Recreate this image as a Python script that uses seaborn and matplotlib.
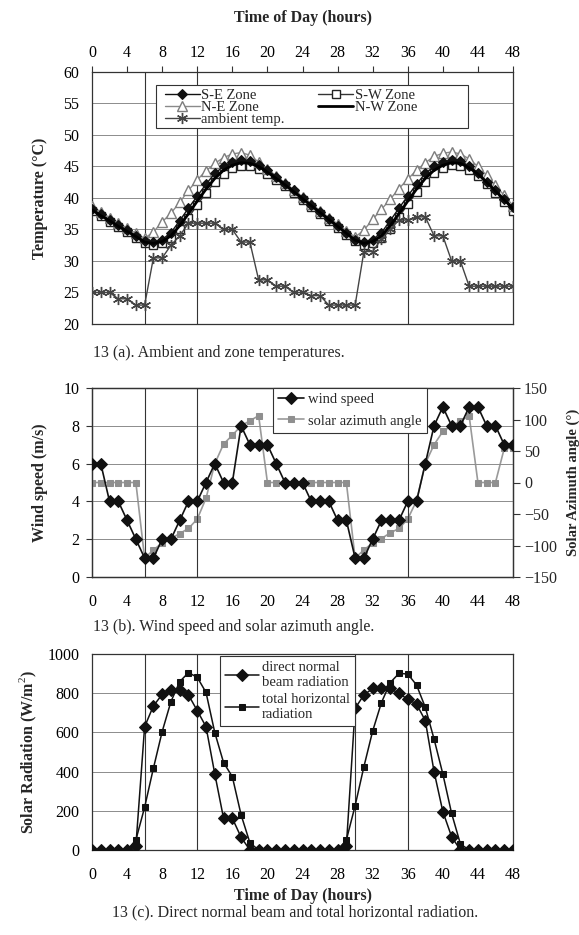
import matplotlib
matplotlib.use("Agg")
import matplotlib.pyplot as plt
from matplotlib.patches import Rectangle
import seaborn as sns

hours = list(range(49))

se_zone = [38.2, 37.4, 36.5, 35.7, 34.9, 34.0, 33.1,
           33.0, 33.4, 34.5, 36.4, 38.4, 40.3,
           42.2, 43.9, 45.0, 45.7, 46.0, 45.9,
           45.3, 44.4, 43.4, 42.3, 41.2, 40.0,
           38.9, 37.8, 36.7, 35.6, 34.5, 33.4,
           33.0, 33.4, 34.5, 36.4, 38.4, 40.3,
           42.2, 43.9, 45.0, 45.7, 46.0, 45.8,
           45.1, 44.0, 42.6, 41.2, 39.8, 38.5]
sw_zone = [37.9, 37.1, 36.2, 35.4, 34.6, 33.7, 32.9,
           32.6, 32.8, 33.6, 35.0, 36.9, 38.9,
           40.8, 42.5, 43.8, 44.7, 45.1, 45.1,
           44.6, 43.8, 42.9, 41.9, 40.8, 39.7,
           38.6, 37.5, 36.4, 35.3, 34.2, 33.1,
           32.6, 32.8, 33.7, 35.1, 37.0, 39.0,
           40.9, 42.6, 43.9, 44.8, 45.2, 45.1,
           44.5, 43.5, 42.2, 40.8, 39.4, 38.0]
ne_zone = [38.7, 37.8, 36.9, 36.1, 35.2, 34.4, 33.6,
           34.6, 36.2, 37.6, 39.3, 41.2, 42.9,
           44.3, 45.5, 46.4, 47.0, 47.2, 46.8,
           45.7, 44.6, 43.5, 42.4, 41.3, 40.2,
           39.1, 38.0, 36.9, 35.9, 34.8, 33.8,
           34.9, 36.6, 38.2, 39.8, 41.5, 43.0,
           44.4, 45.6, 46.6, 47.1, 47.3, 47.0,
           46.2, 45.0, 43.6, 42.0, 40.4, 38.8]
nw_zone = [38.1, 37.2, 36.4, 35.5, 34.7, 33.9, 33.0,
           32.8, 33.1, 34.0, 35.6, 37.5, 39.5,
           41.4, 43.1, 44.4, 45.2, 45.6, 45.5,
           45.0, 44.1, 43.1, 42.1, 41.0, 39.9,
           38.8, 37.7, 36.6, 35.5, 34.4, 33.3,
           32.8, 33.1, 34.0, 35.6, 37.5, 39.5,
           41.4, 43.1, 44.4, 45.2, 45.6, 45.5,
           44.8, 43.8, 42.5, 41.1, 39.7, 38.3]
ambient_temp = [25, 25, 25, 24, 24, 23, 23,
                30.5, 30.5, 32.5, 34, 36, 36,
                36, 36, 35, 35, 33, 33,
                27, 27, 26, 26, 25, 25,
                24.5, 24.5, 23, 23, 23, 23,
                31.5, 31.5, 33.5, 35, 36.5, 36.5,
                37, 37, 34, 34, 30, 30,
                26, 26, 26, 26, 26, 26]

wind_speed = [6, 6, 4, 4, 3, 2, 1,
              1, 2, 2, 3, 4, 4,
              5, 6, 5, 5, 8, 7,
              7, 7, 6, 5, 5, 5,
              4, 4, 4, 3, 3, 1,
              1, 2, 3, 3, 3, 4,
              4, 6, 8, 9, 8, 8,
              9, 9, 8, 8, 7, 7]
solar_azimuth = [0, 0, 0, 0, 0, 0,
                 -120, -107, -96, -89, -81, -73, -58,
                 -25, 30, 61, 75, 90, 98, 106,
                 0, 0, 0, 0, 0, 0, 0, 0, 0, 0,
                 -120, -107, -96, -89, -80, -73, -58,
                 -29, 30, 60, 81, 90, 97, 106,
                 0, 0, 0, 54, 54]

direct_normal = [0, 0, 0, 0, 0,
                 20, 629, 735, 794, 816, 816, 791, 711, 629, 388, 162, 162, 65, 0,
                 0, 0, 0, 0, 0, 0, 0, 0, 0, 0,
                 20, 723, 791, 824, 828, 824, 799, 769, 745, 660, 400, 196, 68,
                 0, 0, 0, 0, 0, 0, 0]
total_horizontal = [0, 0, 0, 0, 0,
                    51, 218, 417, 604, 757, 859, 905, 881, 804, 599, 446, 374, 179, 37,
                    0, 0, 0, 0, 0, 0, 0, 0, 0, 0,
                    51, 226, 425, 607, 752, 854, 901, 898, 842, 728, 566, 388, 187, 31,
                    0, 0, 0, 0, 0, 0]

hour_ticks = list(range(0, 49, 4))
temp_ticks = list(range(20, 61, 5))
wind_ticks = list(range(0, 11, 2))
azimuth_ticks = list(range(-150, 151, 50))
rad_ticks = list(range(0, 1001, 200))
ref_hours_ab = [6, 12, 36]
ref_hours_c = [6, 12, 30, 36]

sns.set_theme(style="white")
plt.rcParams['font.family'] = ['Liberation Serif', 'DejaVu Serif']
plt.rcParams['mathtext.fontset'] = 'custom'
plt.rcParams['mathtext.rm'] = 'Liberation Serif'
plt.rcParams['mathtext.bf'] = 'Liberation Serif:bold'

W, H = 579, 935
fig = plt.figure(figsize=(W / 100, H / 100), dpi=100)


def px_axes(left, top, right, bottom):
    return fig.add_axes([left / W, 1 - bottom / H, (right - left) / W, (bottom - top) / H])


TICK_FS = 11.5
LEG_FS = 10.5
LAB_FS = 11.5


def style_axes(ax, yticks, refs):
    ax.set_xlim(0, 48)
    ax.set_xticks(hour_ticks)
    ax.set_yticks(yticks)
    ax.set_ylim(yticks[0], yticks[-1])
    ax.grid(False)
    for y in yticks:
        ax.axhline(y, color='#8c8c8c', lw=0.7, zorder=0.5)
    for x in refs:
        ax.axvline(x, color='#333333', lw=0.8, zorder=0.6)
    for s in ax.spines.values():
        s.set_color('#333333')
        s.set_linewidth(0.9)
        s.set_visible(True)
    ax.tick_params(axis='both', which='major', direction='out', length=4, width=0.8,
                   color='#333333', labelsize=TICK_FS, labelcolor='black')
    ax.tick_params(axis='y', pad=5)
    ax.set_facecolor('white')


# ---------------- (a) temperatures ----------------
axa = px_axes(92, 72, 513, 324)
style_axes(axa, temp_ticks, ref_hours_ab)
axa.xaxis.tick_top()
axa.tick_params(axis='x', pad=4)
axa.xaxis.set_label_position('top')

sns.lineplot(x=hours, y=sw_zone, ax=axa, color='#333333', lw=1.0, marker='s', ms=5.5,
             mfc='white', mec='#222222', mew=1.0, label='S-W Zone', zorder=3)
sns.lineplot(x=hours, y=ne_zone, ax=axa, color='#8a8a8a', lw=1.0, marker='^', ms=6.5,
             mfc='white', mec='#7d7d7d', mew=1.0, label='N-E Zone', zorder=3)
sns.lineplot(x=hours, y=se_zone, ax=axa, color='#111111', lw=1.0, marker='D', ms=5,
             mfc='#111111', mec='#111111', label='S-E Zone', zorder=4)
sns.lineplot(x=hours, y=nw_zone, ax=axa, color='black', lw=2.0, label='N-W Zone', zorder=5)
sns.lineplot(x=hours, y=ambient_temp, ax=axa, color='#444444', lw=1.0, marker=(6, 2, 0), ms=8,
             mec='#444444', mew=1.0, label='ambient temp.', zorder=4)

axa.set_ylabel('Temperature (°C)', fontsize=LAB_FS, fontweight='bold')
axa.yaxis.set_label_coords(-0.105, 0.5)
axa.set_xlabel('Time of Day (hours)', fontsize=LAB_FS, fontweight='bold')
axa.xaxis.set_label_coords(0.5, 1.2)

h, l = axa.get_legend_handles_labels()
order = ['S-E Zone', 'N-E Zone', 'ambient temp.', 'S-W Zone', 'N-W Zone']
hd = dict(zip(l, h))
box = Rectangle((156 / W, 1 - 128 / H), 312 / W, 43 / H, transform=fig.transFigure,
                facecolor='white', edgecolor='#333333', lw=0.8, zorder=6)
axa.add_patch(box)
box.set_clip_on(False)
lega = axa.legend([hd[k] for k in order], order, ncol=2, fontsize=10.5,
                  bbox_to_anchor=(162 / W, 1 - 86 / H),
                  bbox_transform=fig.transFigure, loc='upper left',
                  borderaxespad=0, frameon=False, labelspacing=-0.08, handlelength=2.4,
                  handletextpad=0.1, columnspacing=2.3, borderpad=0.2)
lega.set_zorder(7)

fig.text(93 / W, 1 - 353 / H, '13 (a). Ambient and zone temperatures.', fontsize=11.5,
         ha='left', va='center')

# ---------------- (b) wind / azimuth ----------------
axb = px_axes(92, 388, 513, 577)
style_axes(axb, wind_ticks, ref_hours_ab)
axb.tick_params(axis='x', pad=8)
sns.lineplot(x=hours, y=wind_speed, ax=axb, color='#111111', lw=1.2, marker='D', ms=6.5,
             mfc='#111111', mec='#111111', label='wind speed', zorder=4)
axb.set_ylabel('Wind speed (m/s)', fontsize=LAB_FS, fontweight='bold')
axb.yaxis.set_label_coords(-0.105, 0.5)
axb.set_xlabel('')

axb2 = axb.twinx()
sns.lineplot(x=hours, y=solar_azimuth, ax=axb2, color='#9a9a9a', lw=1.2, marker='s', ms=4.5,
             mfc='#8f8f8f', mec='#8f8f8f', label='solar azimuth angle', zorder=3)
axb2.set_ylim(azimuth_ticks[0], azimuth_ticks[-1])
axb2.set_yticks(azimuth_ticks)
axb2.grid(False)
axb2.tick_params(axis='y', direction='out', length=5, width=0.8, color='#333333',
                 labelsize=TICK_FS, pad=3)
for s in axb2.spines.values():
    s.set_color('#333333')
    s.set_linewidth(0.9)
axb2.set_ylabel('Solar Azimuth angle (°)', fontsize=10.5, fontweight='bold', rotation=90)
axb2.yaxis.set_label_coords(1.128, 0.5)
axb.set_zorder(axb2.get_zorder() + 1)
axb.patch.set_visible(False)
axb2.patch.set_facecolor('white')

if axb2.get_legend() is not None:
    axb2.get_legend().remove()
h1, l1 = axb.get_legend_handles_labels()
h2, l2 = axb2.get_legend_handles_labels()
legb = axb.legend(h1 + h2, l1 + l2, fontsize=LEG_FS, loc='upper left',
                  bbox_to_anchor=(273 / W, 1 - 388 / H), bbox_transform=fig.transFigure,
                  borderaxespad=0, frameon=True, fancybox=False, framealpha=1,
                  edgecolor='#333333', labelspacing=0.55, handlelength=1.8,
                  handletextpad=0.25, borderpad=0.35)
legb.get_frame().set_linewidth(0.8)

fig.text(93 / W, 1 - 627 / H, '13 (b). Wind speed and solar azimuth angle.', fontsize=11.5,
         ha='left', va='center')

# ---------------- (c) radiation ----------------
axc = px_axes(92, 654, 513, 850)
style_axes(axc, rad_ticks, ref_hours_c)
axc.tick_params(axis='x', pad=8)
sns.lineplot(x=hours, y=direct_normal, ax=axc, color='#111111', lw=1.1, marker='D', ms=6,
             mfc='#111111', mec='#111111', label='direct normal\nbeam radiation', zorder=4)
sns.lineplot(x=hours, y=total_horizontal, ax=axc, color='#111111', lw=1.1, marker='s', ms=5,
             mfc='#111111', mec='#111111', label='total horizontal\nradiation', zorder=3)
axc.set_ylabel('Solar Radiation (W/m$^2$)', fontsize=LAB_FS, fontweight='bold')
axc.yaxis.set_label_coords(-0.125, 0.5)
axc.set_xlabel('Time of Day (hours)', fontsize=LAB_FS, fontweight='bold')
axc.xaxis.set_label_coords(0.5, -0.195)
legc = axc.legend(fontsize=LEG_FS, loc='upper left',
                  bbox_to_anchor=(220 / W, 1 - 656 / H), bbox_transform=fig.transFigure,
                  borderaxespad=0, frameon=True, fancybox=False, framealpha=1,
                  edgecolor='#333333', labelspacing=0.25, handlelength=2.3,
                  handletextpad=0.2, borderpad=0.35)
legc.get_frame().set_linewidth(0.8)

fig.text(295 / W, 1 - 912 / H,
         '13 (c). Direct normal beam and total horizontal radiation.', fontsize=11.5,
         ha='center', va='center')

fig.savefig('out.png', dpi=100, facecolor='white')
